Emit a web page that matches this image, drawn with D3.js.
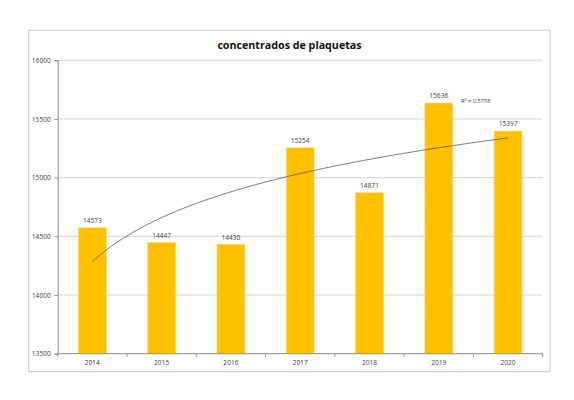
<!DOCTYPE html>
<html>
<head>
<meta charset="utf-8">
<script src="https://cdn.jsdelivr.net/npm/d3@7"></script>
<style>
  body { margin: 0; background: #fff; }
  svg { display: block; font-family: "Open Sans", "Liberation Sans", sans-serif; }
</style>
</head>
<body>
<script>
const years = ["2014", "2015", "2016", "2017", "2018", "2019", "2020"];
const values = [14573, 14447, 14430, 15254, 14871, 15636, 15397];
const yTicks = [13500, 14000, 14500, 15000, 15500, 16000];
const title = "concentrados de plaquetas";
const r2Label = "R² = 0,5758";

const width = 574;
const height = 400;
const marginTop = 60.3;
const marginRight = 31.3;
const marginBottom = 46.3;
const marginLeft = 57.7;

const x = d3.scaleBand()
    .domain(years)
    .range([marginLeft, width - marginRight])
    .paddingInner(0.6)
    .paddingOuter(0.3);

const y = d3.scaleLinear()
    .domain([13500, 16000])
    .range([height - marginBottom, marginTop]);

const svg = d3.create("svg")
    .attr("width", width)
    .attr("height", height)
    .attr("viewBox", `0 0 ${width} ${height}`);

// chart frame
svg.append("rect")
    .attr("x", 28.7)
    .attr("y", 30.2)
    .attr("width", 521.3)
    .attr("height", 341.5)
    .attr("fill", "#fff")
    .attr("stroke", "#c8c8c8")
    .attr("stroke-width", 1);

// title
svg.append("text")
    .attr("x", 289.5)
    .attr("y", 48.5)
    .attr("text-anchor", "middle")
    .style("font-size", "10.7px")
    .style("font-weight", "bold")
    .attr("fill", "#111")
    .text(title);

// grid lines
svg.append("g")
    .selectAll("line")
    .data(yTicks.slice(1))
    .join("line")
    .attr("x1", marginLeft)
    .attr("x2", width - marginRight)
    .attr("y1", d => y(d))
    .attr("y2", d => y(d))
    .attr("stroke", "#d4d4d4")
    .attr("stroke-width", 1);

// y axis
const yAxis = svg.append("g")
    .attr("transform", `translate(${marginLeft},0)`)
    .call(d3.axisLeft(y).tickValues(yTicks).tickSize(3).tickPadding(4).tickFormat(d3.format("d")));
yAxis.select(".domain").attr("stroke", "#8c8c8c");
yAxis.selectAll(".tick line").attr("stroke", "#8c8c8c");
yAxis.selectAll("text")
    .attr("fill", "#404040")
    .style("font-size", "6.6px")
    .style("font-family", "'Open Sans', sans-serif");

// bars
svg.append("g")
    .selectAll("rect")
    .data(values)
    .join("rect")
    .attr("x", (d, i) => x(years[i]))
    .attr("y", d => y(d))
    .attr("width", x.bandwidth())
    .attr("height", d => y(13500) - y(d))
    .attr("fill", "#ffc000")
    .attr("stroke", "#ffd24d")
    .attr("stroke-width", 0.6);

// x axis
const step = (width - marginRight - marginLeft) / years.length;
const xAxis = svg.append("g");
xAxis.append("line")
    .attr("x1", marginLeft)
    .attr("x2", width - marginRight)
    .attr("y1", y(13500))
    .attr("y2", y(13500))
    .attr("stroke", "#8c8c8c");
xAxis.selectAll(".xt")
    .data(d3.range(years.length + 1))
    .join("line")
    .attr("class", "xt")
    .attr("x1", i => marginLeft + i * step)
    .attr("x2", i => marginLeft + i * step)
    .attr("y1", y(13500))
    .attr("y2", y(13500) + 3)
    .attr("stroke", "#8c8c8c");
xAxis.selectAll("text")
    .data(years)
    .join("text")
    .attr("x", d => x(d) + x.bandwidth() / 2)
    .attr("y", y(13500) + 11.6)
    .attr("text-anchor", "middle")
    .attr("fill", "#404040")
    .style("font-size", "6.6px")
    .text(d => d);

// value labels
svg.append("g")
    .selectAll("text")
    .data(values)
    .join("text")
    .attr("x", (d, i) => x(years[i]) + x.bandwidth() / 2)
    .attr("y", d => y(d) - 5)
    .attr("text-anchor", "middle")
    .attr("fill", "#404040")
    .style("font-size", "6.6px")
    .text(d => d);

// logarithmic trend line (least squares on ln(index))
const lnx = values.map((d, i) => Math.log(i + 1));
const mx = d3.mean(lnx);
const my = d3.mean(values);
const b = d3.sum(lnx, (v, i) => (v - mx) * (values[i] - my)) / d3.sum(lnx, v => (v - mx) ** 2);
const a = my - b * mx;
const xi = d3.scaleLinear()
    .domain([1, years.length])
    .range([x(years[0]) + x.bandwidth() / 2, x(years[years.length - 1]) + x.bandwidth() / 2]);
const trendPts = d3.range(1, years.length + 0.001, 0.05);
svg.append("path")
    .datum(trendPts)
    .attr("fill", "none")
    .attr("stroke", "#555")
    .attr("stroke-width", 0.8)
    .attr("d", d3.line().x(t => xi(t)).y(t => y(a + b * Math.log(t))));

svg.append("text")
    .attr("x", 461)
    .attr("y", 103)
    .attr("fill", "#404040")
    .style("font-size", "5.7px")
    .text(r2Label);

document.body.appendChild(svg.node());
</script>
</body>
</html>
